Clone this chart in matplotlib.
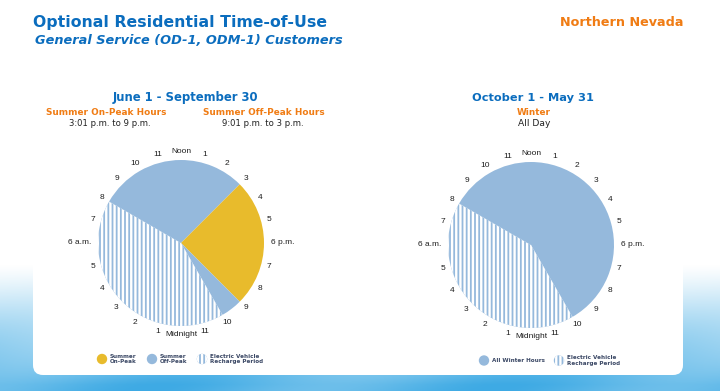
import numpy as np
import matplotlib
matplotlib.use("Agg")
import matplotlib.pyplot as plt
from matplotlib.patches import FancyBboxPatch, Circle
from matplotlib import font_manager

W, H = 720, 391

# hours per segment, clockwise starting at noon
summer_hours = [3, 6, 1, 10, 4]
summer_kind = ["off", "on", "off", "ev", "off"]
winter_hours = [10, 10, 4]
winter_kind = ["off", "ev", "off"]

# clock face labels, clockwise from noon
clock_labels = ["Noon", "1", "2", "3", "4", "5", "6 p.m.", "7", "8", "9", "10", "11",
                "Midnight", "1", "2", "3", "4", "5", "6 a.m.", "7", "8", "9", "10", "11"]

summer_legend = ["Summer\nOn-Peak", "Summer\nOff-Peak", "Electric Vehicle\nRecharge Period"]
winter_legend = ["All Winter Hours", "Electric Vehicle\nRecharge Period"]

BLUE = "#95b9dc"
YELLOW = "#e8bb2c"
TITLE_BLUE = "#0b6dbe"
ORANGE = "#f07c14"
LEG_TXT = "#3b4865"

plt.rcParams["hatch.linewidth"] = 1.7

names = {f.name for f in font_manager.fontManager.ttflist}
HEAD = "DejaVu Sans"
CLOCK = "Liberation Sans Narrow" if "Liberation Sans Narrow" in names else "Liberation Sans"

fig = plt.figure(figsize=(7.2, 3.91), dpi=100)

# background in pixel coordinates
bg = fig.add_axes([0, 0, 1, 1])
bg.set_xlim(0, W)
bg.set_ylim(H, 0)
bg.axis("off")
yy = np.linspace(0, H, H)[:, None]
xx = np.linspace(0, W, W)[None, :]
t = np.clip((yy - 265) / 120, 0, 1) ** 1.1
t = np.clip(t * (0.88 + 0.12 * np.sin(xx / 55.0 + yy / 22.0)), 0, 1)
low = np.array([62, 170, 228]) / 255.0
img = (1 - t[..., None]) * np.ones(3) + t[..., None] * low
bg.imshow(img, extent=(0, W, H, 0), aspect="auto", zorder=0)
bg.add_patch(FancyBboxPatch((33, 40), 650, 335, boxstyle="round,pad=0,rounding_size=10",
                            facecolor="white", edgecolor="none", zorder=1))

# headings
bg.text(33, 27, "Optional Residential Time-of-Use", color=TITLE_BLUE, fontsize=11.3,
        fontweight="bold", family=HEAD, zorder=3)
bg.text(35, 44, "General Service (OD-1, ODM-1) Customers", color=TITLE_BLUE, fontsize=9.3,
        fontweight="bold", style="italic", family=HEAD, zorder=3)
bg.text(683, 26, "Northern Nevada", color=ORANGE, fontsize=9.2, fontweight="bold",
        family=HEAD, ha="right", zorder=3)

bg.text(185, 101, "June 1 - September 30", color=TITLE_BLUE, fontsize=8.4, fontweight="bold",
        family=HEAD, ha="center", zorder=3)
bg.text(106, 115, "Summer On-Peak Hours", color=ORANGE, fontsize=6.4, fontweight="bold",
        family=HEAD, ha="center", zorder=3)
bg.text(110, 126.5, "3:01 p.m. to 9 p.m.", color="#222222", fontsize=6.1, family=HEAD,
        ha="center", zorder=3)
bg.text(264, 115, "Summer Off-Peak Hours", color=ORANGE, fontsize=6.4, fontweight="bold",
        family=HEAD, ha="center", zorder=3)
bg.text(263, 126.5, "9:01 p.m. to 3 p.m.", color="#222222", fontsize=6.1, family=HEAD,
        ha="center", zorder=3)

bg.text(533, 101, "October 1 - May 31", color=TITLE_BLUE, fontsize=8.2, fontweight="bold",
        family=HEAD, ha="center", zorder=3)
bg.text(534, 115, "Winter", color=ORANGE, fontsize=6.4, fontweight="bold", family=HEAD,
        ha="center", zorder=3)
bg.text(534, 126.5, "All Day", color="#222222", fontsize=6.6, family=HEAD, ha="center", zorder=3)


def clock_pie(cx, cy, r, hours, kinds):
    half = 1.3 * r
    ax = fig.add_axes([(cx - half) / W, (H - cy - half) / H, 2 * half / W, 2 * half / H])
    cols = [YELLOW if k == "on" else BLUE for k in kinds]
    wedges, _ = ax.pie(hours, colors=cols, startangle=90, counterclock=False, radius=1,
                       wedgeprops=dict(linewidth=0, edgecolor="white"))
    for w, k in zip(wedges, kinds):
        if k == "ev":
            w.set_hatch("||||")
    ax.set_xlim(-1.3, 1.3)
    ax.set_ylim(-1.3, 1.3)
    ax.axis("off")
    for i, lab in enumerate(clock_labels):
        a = np.deg2rad(90 - 15 * i)
        ha = "center"
        if lab == "6 p.m.":
            ha = "left"
        elif lab == "6 a.m.":
            ha = "right"
        rr = 1.08 if ha != "center" else 1.1
        ax.text(rr * np.cos(a), rr * np.sin(a), lab, ha=ha, va="center", fontsize=6,
                family=CLOCK, color="#1e1e1e")
    return ax


clock_pie(181, 243, 83, summer_hours, summer_kind)
clock_pie(531, 245, 83, winter_hours, winter_kind)


def legend_item(x, y, label, kind):
    c = Circle((x, y), 5.2, facecolor=YELLOW if kind == "on" else BLUE,
               edgecolor="white" if kind == "ev" else "none", linewidth=0, zorder=3)
    if kind == "ev":
        c.set_hatch("||||")
    bg.add_patch(c)
    bg.text(x + 8, y, label, fontsize=4.1, fontweight="bold", family=HEAD, color=LEG_TXT,
            va="center", linespacing=1.15, zorder=3)


for x, lab, k in zip([102, 152, 202], summer_legend, ["on", "off", "ev"]):
    legend_item(x, 359, lab, k)
for x, lab, k in zip([484, 559], winter_legend, ["off", "ev"]):
    legend_item(x, 360.5, lab, k)

fig.savefig("out.png", dpi=100)
